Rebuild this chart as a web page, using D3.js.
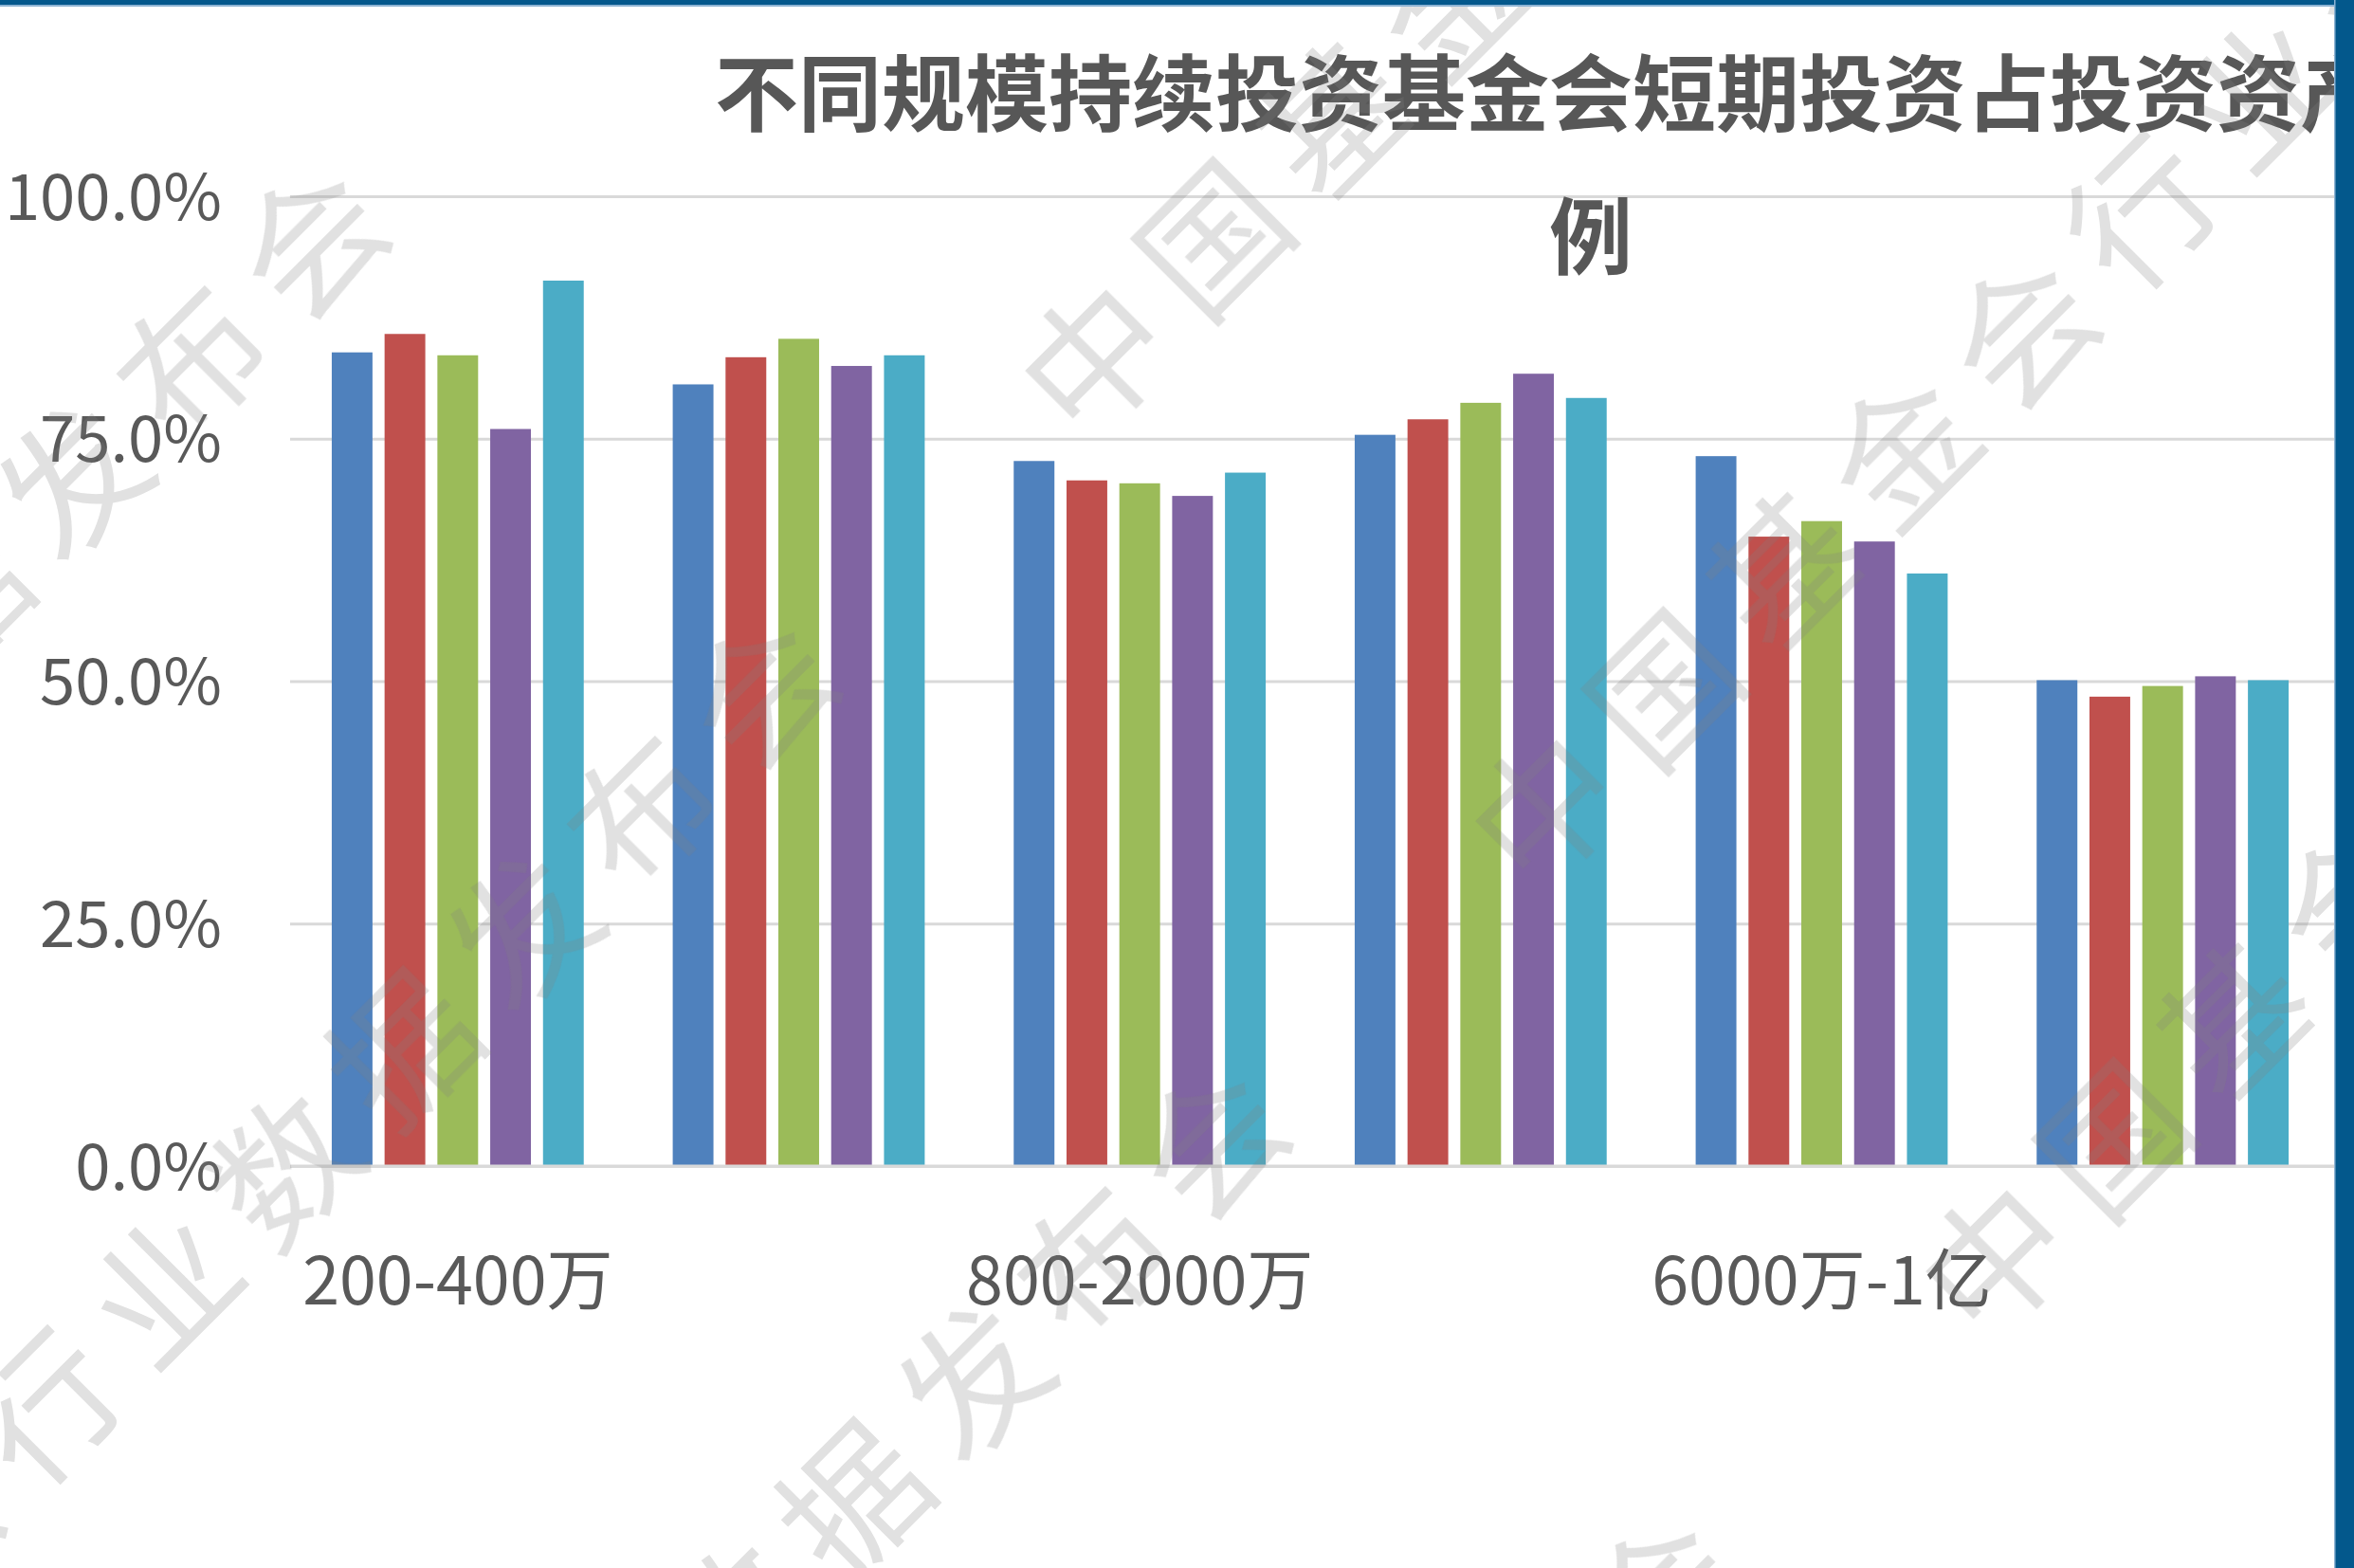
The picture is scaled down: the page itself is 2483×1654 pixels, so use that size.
<!DOCTYPE html>
<html>
<head>
<meta charset="utf-8">
<script src="https://cdn.jsdelivr.net/npm/d3@7"></script>
<style>
  body { margin: 0; background: #fff; }
  svg { display: block; }
  text { font-family: "Noto Sans CJK SC", "Noto Sans", sans-serif; }
</style>
</head>
<body>
<script>
var width = 2483;
var height = 1654;

// categories (only every other one gets a label on the axis)
var categories = ["200-400万", "400-800万", "800-2000万", "2000-6000万", "6000万-1亿", "1亿以上"];
var seriesNames = ["系列1", "系列2", "系列3", "系列4", "系列5"];
var colors = ["#4F81BD", "#C0504D", "#9BBB59", "#8064A2", "#4BACC6"];

// values per series, one per category
var s1 = [0.839, 0.806, 0.727, 0.754, 0.732, 0.501];
var s2 = [0.858, 0.834, 0.707, 0.770, 0.649, 0.484];
var s3 = [0.836, 0.853, 0.704, 0.787, 0.665, 0.495];
var s4 = [0.760, 0.825, 0.691, 0.817, 0.644, 0.505];
var s5 = [0.913, 0.836, 0.715, 0.792, 0.611, 0.501];
var series = [s1, s2, s3, s4, s5];

var yTicks = [0, 0.25, 0.5, 0.75, 1];
var titleLines = ["不同规模持续投资基金会短期投资占投资资产比", "例"];
var watermark = "中国基金会行业数据发布会";

var svg = d3.select("body").append("svg")
    .attr("width", width)
    .attr("height", height);

svg.append("rect").attr("width", width).attr("height", height).attr("fill", "#fff");

var x0 = d3.scaleBand()
    .domain(categories)
    .range([303, 2461])
    .paddingInner(0.261)
    .paddingOuter(0.1305);

var x1 = d3.scaleBand()
    .domain(d3.range(seriesNames.length))
    .range([0, x0.bandwidth()])
    .paddingInner(0.229);

var y = d3.scaleLinear()
    .domain([0, 1])
    .range([1230, 207]);

// gridlines + y labels
var yAxis = d3.axisLeft(y)
    .tickValues(yTicks)
    .tickFormat(d3.format(".1%"))
    .tickSize(-(2464 - 306))
    .tickPadding(72);

var gy = svg.append("g")
    .attr("transform", "translate(306,0)")
    .call(yAxis);
gy.select(".domain").remove();
gy.selectAll(".tick line").attr("stroke", "#D9D9D9").attr("stroke-width", 3);
gy.selectAll(".tick text")
    .attr("fill", "#595959")
    .attr("font-size", 67)
    .attr("dy", "0.36em");

// title
svg.append("g").selectAll("text")
    .data(titleLines)
    .enter().append("text")
    .attr("x", 1678)
    .attr("y", function (d, i) { return 131 + i * 151; })
    .attr("text-anchor", "middle")
    .attr("font-size", 88)
    .attr("font-weight", 700)
    .attr("fill", "#575757")
    .text(function (d) { return d; });

// bars
var groups = svg.append("g").selectAll("g")
    .data(categories)
    .enter().append("g")
    .attr("transform", function (d) { return "translate(" + x0(d) + ",0)"; });

groups.selectAll("rect")
    .data(function (d, ci) { return series.map(function (s, si) { return { si: si, v: s[ci] }; }); })
    .enter().append("rect")
    .attr("x", function (d) { return x1(d.si); })
    .attr("width", x1.bandwidth())
    .attr("y", function (d) { return y(d.v); })
    .attr("height", function (d) { return y(0) - y(d.v); })
    .attr("fill", function (d) { return colors[d.si]; });

// baseline
svg.append("line")
    .attr("x1", 306).attr("x2", 2464)
    .attr("y1", y(0)).attr("y2", y(0))
    .attr("stroke", "#D9D9D9").attr("stroke-width", 3);

// x labels
var xAxis = d3.axisBottom(x0)
    .tickSize(0)
    .tickFormat(function (d, i) { return i % 2 === 0 ? d : ""; });

var gx = svg.append("g")
    .attr("transform", "translate(0," + y(0) + ")")
    .call(xAxis);
gx.select(".domain").remove();
gx.selectAll(".tick text")
    .attr("fill", "#595959")
    .attr("font-size", 70)
    .attr("y", 146)
    .attr("dy", 0);

// watermark
var wm = svg.append("g").attr("fill", "#808080").attr("opacity", 0.24);
var step = 178, gapLen = 497, period = 11 * step + gapLen;
var dx = Math.SQRT1_2, dy = -Math.SQRT1_2;
var chars = [];
d3.range(-3, 4).forEach(function (j) {
    var ox = 1156 + 475 * j, oy = 380 + 475 * j;
    d3.range(-3, 4).forEach(function (r) {
        watermark.split("").forEach(function (c, k) {
            var t = r * period + k * step;
            var cx = ox + t * dx, cy = oy + t * dy;
            if (cx > -200 && cx < width + 200 && cy > -200 && cy < height + 200) {
                chars.push({ c: c, x: cx, y: cy });
            }
        });
    });
});
wm.selectAll("text")
    .data(chars)
    .enter().append("text")
    .attr("transform", function (d) { return "translate(" + d.x + "," + d.y + ") rotate(-45)"; })
    .attr("text-anchor", "middle")
    .attr("dy", "0.36em")
    .attr("font-size", 150)
    .attr("font-weight", 400)
    .text(function (d) { return d.c; });

// frame: top and right blue border
svg.append("rect").attr("x", 0).attr("y", 0).attr("width", width).attr("height", 5).attr("fill", "#03588C");
svg.append("rect").attr("x", 0).attr("y", 5).attr("width", width).attr("height", 2).attr("fill", "#8DB3D3");
svg.append("rect").attr("x", 2463).attr("y", 0).attr("width", 20).attr("height", height).attr("fill", "#03588C");
svg.append("rect").attr("x", 2462).attr("y", 0).attr("width", 1.5).attr("height", height).attr("fill", "#8DB3D3");
</script>
</body>
</html>
